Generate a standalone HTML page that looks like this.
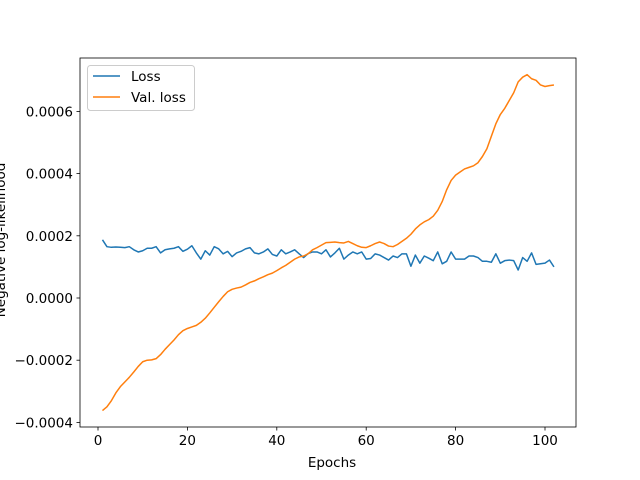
<!DOCTYPE html>
<html><head><meta charset="utf-8"><style>
body{margin:0;background:#fff;}
svg{display:block;font-family:"DejaVu Sans","Liberation Sans",sans-serif;}
</style></head><body>
<svg id="chart" width="640" height="480">
<rect x="0" y="0" width="640" height="480" fill="#fff"/>
<g id="plot"></g>
<text x="332" y="467" font-size="13.5" text-anchor="middle">Epochs</text>
<text transform="translate(5,240) rotate(-90)" font-size="13.5" text-anchor="middle">Negative log-likelihood</text>
<g>
<rect x="87.5" y="65.5" width="107" height="45" rx="3" fill="#fff" fill-opacity="0.8" stroke="#ccc"/>
<line x1="93" y1="76" x2="120" y2="76" stroke="#1f77b4" stroke-width="1.5"/>
<text x="131" y="81" font-size="13.5">Loss</text>
<line x1="93" y1="97" x2="120" y2="97" stroke="#ff7f0e" stroke-width="1.5"/>
<text x="131" y="102" font-size="13.5">Val. loss</text>
</g>
</svg>
<script>
const loss = [1.87,1.65,1.63,1.64,1.63,1.62,1.65,1.55,1.48,1.52,1.6,1.6,1.65,1.45,1.55,1.58,1.6,1.65,1.5,1.57,1.68,1.45,1.25,1.52,1.38,1.65,1.58,1.42,1.5,1.33,1.45,1.5,1.58,1.62,1.45,1.42,1.48,1.58,1.4,1.35,1.55,1.42,1.48,1.55,1.42,1.3,1.43,1.48,1.48,1.42,1.55,1.32,1.45,1.6,1.25,1.38,1.48,1.42,1.48,1.25,1.27,1.42,1.38,1.3,1.22,1.35,1.3,1.42,1.42,1.02,1.38,1.12,1.35,1.28,1.2,1.48,1.1,1.18,1.48,1.25,1.25,1.25,1.35,1.35,1.3,1.18,1.18,1.15,1.42,1.12,1.2,1.22,1.2,0.9,1.3,1.18,1.45,1.08,1.1,1.12,1.22,1.0];
const valLoss = [-3.62,-3.5,-3.3,-3.05,-2.85,-2.7,-2.55,-2.38,-2.2,-2.05,-2.0,-1.99,-1.95,-1.82,-1.65,-1.5,-1.35,-1.18,-1.05,-0.98,-0.93,-0.88,-0.78,-0.65,-0.48,-0.3,-0.12,0.05,0.2,0.28,0.32,0.35,0.42,0.5,0.55,0.62,0.68,0.75,0.8,0.88,0.97,1.05,1.15,1.25,1.32,1.35,1.42,1.55,1.62,1.7,1.78,1.79,1.8,1.78,1.77,1.82,1.75,1.68,1.63,1.62,1.68,1.75,1.8,1.75,1.67,1.65,1.72,1.82,1.92,2.05,2.22,2.35,2.45,2.52,2.63,2.82,3.1,3.48,3.78,3.95,4.05,4.15,4.2,4.25,4.35,4.55,4.8,5.2,5.6,5.9,6.1,6.35,6.6,6.95,7.1,7.18,7.05,7.0,6.85,6.8,6.83,6.85];
const xTicks = [0,20,40,60,80,100];
const yTicks = [-4,-2,0,2,4,6];
const yTickLabels = ["\u22120.0004","\u22120.0002","0.0000","0.0002","0.0004","0.0006"];

const NS="http://www.w3.org/2000/svg";
const g=document.getElementById('plot');
const L=80,R=576,T=58,B=427;
function xs(e){return 98+(e-0)*(545-98)/100;}
function ys(v){return 298-v*31.1;}
function mk(t,a){const e=document.createElementNS(NS,t);for(const k in a)e.setAttribute(k,a[k]);g.appendChild(e);return e;}
function series(arr,color,name){
  const d=arr.map((v,i)=>(i?'L':'M')+xs(i+1).toFixed(2)+' '+ys(v).toFixed(2)).join(' ');
  const p=mk('path',{d:d,fill:'none',stroke:color,'stroke-width':1.5,'stroke-linejoin':'round'});
  
  
}
series(loss,'#1f77b4','loss-line');
series(valLoss,'#ff7f0e','val-loss-line');
xTicks.forEach(t=>{
  const x=xs(t);
  const l=mk('line',{x1:x,y1:B,x2:x,y2:B+3.5,stroke:'#000','stroke-width':0.8});
  
  
  const tx=mk('text',{x:x,y:B+18,'font-size':13.5,'text-anchor':'middle'});
  tx.textContent=t;
  
  
});
yTicks.forEach((t,i)=>{
  const y=ys(t);
  const l=mk('line',{x1:L-3.5,y1:y,x2:L,y2:y,stroke:'#000','stroke-width':0.8});
  
  
  const tx=mk('text',{x:L-7,y:y+5,'font-size':13.5,'text-anchor':'end'});
  tx.textContent=yTickLabels[i];
  
  
});
const fr=mk('rect',{x:L,y:T,width:R-L,height:B-T,fill:'none',stroke:'#000','stroke-width':0.8});


</script>
</body></html>
